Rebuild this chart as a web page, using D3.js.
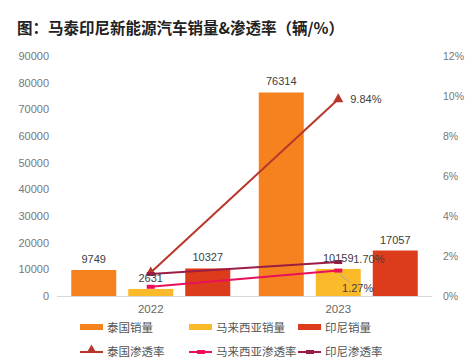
<!DOCTYPE html>
<html><head><meta charset="utf-8">
<script src="https://cdn.jsdelivr.net/npm/d3@7"></script>
<style>body{margin:0;background:#fff;font-family:"Noto Sans CJK SC","Noto Sans",sans-serif;}</style>
</head><body>
<svg id="c" width="465" height="359"></svg>
<script>
const years = ["2022", "2023"];
const barSeries = ["泰国销量", "马来西亚销量", "印尼销量"];
const thaiSales = [9749, 76314];
const malaysiaSales = [2631, 10159];
const indonesiaSales = [10327, 17057];
const lineSeries = ["泰国渗透率", "马来西亚渗透率", "印尼渗透率"];
const thaiRate = [1.18, 9.84];
const malaysiaRate = [0.46, 1.27];
const indonesiaRate = [1.1, 1.70];
const leftTicks = [0, 10000, 20000, 30000, 40000, 50000, 60000, 70000, 80000, 90000];
const rightTicks = [0, 2, 4, 6, 8, 10, 12];

const barColors = ["#F5821F", "#FBBA2A", "#DD3C1C"];
const lineColors = ["#B8372B", "#E8105A", "#9B1D45"];

const svg = d3.select("#c");
const L = 57, R = 432, T = 56, B = 296;

svg.append("text").attr("x", 17).attr("y", 34).attr("font-size", 15.5).attr("font-weight", "bold")
  .attr("fill", "#222").text("图：马泰印尼新能源汽车销量&渗透率（辆/%）");

const x0 = d3.scaleBand().domain(years).range([L, R]);
const x1 = d3.scaleBand().domain(barSeries).range([0, 159]).paddingInner(12/57);
const yL = d3.scaleLinear().domain([0, 90000]).range([B, T]);
const yR = d3.scaleLinear().domain([0, 12]).range([B, T]);

const axFont = "Liberation Sans, Arial, sans-serif";
const gL = svg.append("g").attr("transform", `translate(${L-4},0)`)
  .call(d3.axisLeft(yL).tickValues(leftTicks).tickSize(0).tickPadding(4).tickFormat(d3.format("d")));
gL.select(".domain").remove();
gL.selectAll("text").attr("fill", "#777").attr("font-size", 11).attr("font-family", axFont);

const gR = svg.append("g").attr("transform", `translate(${R+11},0)`)
  .call(d3.axisRight(yR).tickValues(rightTicks).tickSize(0).tickPadding(0).tickFormat(d => d + "%"));
gR.select(".domain").remove();
gR.selectAll("text").attr("fill", "#777").attr("font-size", 10.5).attr("font-family", axFont);

svg.append("line").attr("x1", L).attr("x2", R).attr("y1", B + 0.5).attr("y2", B + 0.5).attr("stroke", "#d9d9d9");

svg.append("g").attr("transform", `translate(0,${B})`)
  .call(d3.axisBottom(x0).tickSize(0).tickPadding(9))
  .call(g => g.select(".domain").remove())
  .selectAll("text").attr("fill", "#666").attr("font-size", 11.5).attr("font-family", axFont);

const salesArr = [thaiSales, malaysiaSales, indonesiaSales];
const groupOff = (x0.bandwidth() - 159) / 2;
barSeries.forEach((s, si) => {
  years.forEach((yr, i) => {
    const xb = x0(yr) + groupOff + x1(s);
    const v = salesArr[si][i];
    svg.append("rect").attr("x", xb).attr("y", yL(v)).attr("width", x1.bandwidth())
      .attr("height", B - yL(v)).attr("fill", barColors[si]);
  });
});

const rateArr = [thaiRate, malaysiaRate, indonesiaRate];
const cx = yr => x0(yr) + x0.bandwidth() / 2;
const lineGen = d3.line().x((d, i) => cx(years[i])).y(d => yR(d));
rateArr.forEach((arr, si) => {
  svg.append("path").datum(arr).attr("d", lineGen).attr("fill", "none")
    .attr("stroke", lineColors[si]).attr("stroke-width", 2);
  arr.forEach((v, i) => {
    const px = cx(years[i]), py = yR(v);
    if (si === 0) {
      svg.append("path").attr("d", d3.symbol(d3.symbolTriangle, 45)()).attr("transform", `translate(${px},${py})`)
        .attr("fill", lineColors[si]);
    } else {
      svg.append("rect").attr("x", px - 4).attr("y", py - 2).attr("width", 8).attr("height", 4).attr("fill", lineColors[si]);
    }
  });
});

barSeries.forEach((s, si) => {
  years.forEach((yr, i) => {
    const xb = x0(yr) + groupOff + x1(s) + x1.bandwidth() / 2;
    const v = salesArr[si][i];
    svg.append("text").attr("x", xb).attr("y", yL(v) - 7).attr("text-anchor", "middle")
      .attr("font-size", 11).attr("fill", "#404040").attr("font-family", axFont).text(v);
  });
});

const x23 = cx("2023");
svg.append("text").attr("x", x23 + 12).attr("y", yR(thaiRate[1]) + 4).attr("font-size", 11).attr("fill", "#404040").attr("font-family", axFont).text(thaiRate[1].toFixed(2) + "%");
svg.append("text").attr("x", x23 + 15).attr("y", yR(indonesiaRate[1]) + 1).attr("font-size", 11).attr("fill", "#404040").attr("font-family", axFont).text(indonesiaRate[1].toFixed(2) + "%");
svg.append("line").attr("x1", x23 + 2).attr("y1", yR(malaysiaRate[1]) + 4).attr("x2", x23 + 12).attr("y2", yR(malaysiaRate[1]) + 12).attr("stroke", "#a6a6a6").attr("stroke-width", 1);
svg.append("text").attr("x", x23 + 35).attr("y", yR(malaysiaRate[1]) + 21).attr("text-anchor", "end").attr("font-size", 11).attr("fill", "#404040").attr("font-family", axFont).text(malaysiaRate[1].toFixed(2) + "%");

const legX = [80, 189, 298];
barSeries.forEach((s, i) => {
  svg.append("rect").attr("x", legX[i]).attr("y", 324).attr("width", 23).attr("height", 6).attr("fill", barColors[i]);
  svg.append("text").attr("x", legX[i] + 27).attr("y", 332).attr("font-size", 11.5).attr("fill", "#555").text(s);
});
lineSeries.forEach((s, i) => {
  svg.append("line").attr("x1", legX[i]).attr("x2", legX[i] + 23).attr("y1", 352).attr("y2", 352).attr("stroke", lineColors[i]).attr("stroke-width", 2);
  if (i === 0) {
    svg.append("path").attr("d", d3.symbol(d3.symbolTriangle, 40)()).attr("transform", `translate(${legX[i] + 11.5},350)`).attr("fill", lineColors[i]);
  } else {
    svg.append("rect").attr("x", legX[i] + 8).attr("y", 350).attr("width", 8).attr("height", 4).attr("fill", lineColors[i]);
  }
  svg.append("text").attr("x", legX[i] + 27).attr("y", 356).attr("font-size", 11.5).attr("fill", "#555").text(s);
});
</script>
</body></html>
